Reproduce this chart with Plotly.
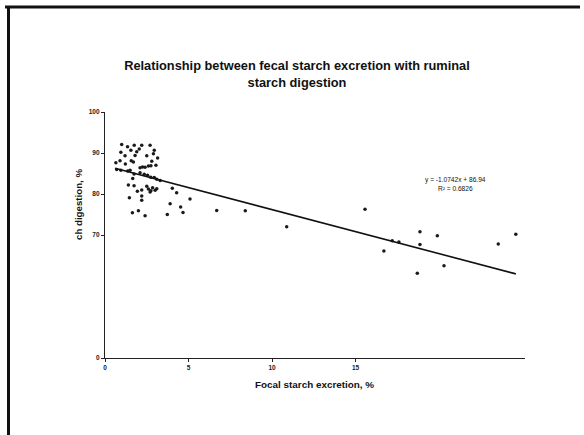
import plotly.graph_objects as go

# Data
fecal_starch = [1.0, 1.35, 1.75, 2.2, 2.7,
                0.95, 1.55, 2.05, 2.95, 1.9,
                1.2, 1.8, 2.5, 2.9, 3.15,
                0.65, 0.9, 1.57, 1.7, 1.22, 2.8, 3.05,
                2.1, 2.25, 2.4, 2.6, 2.75,
                0.7, 0.95, 1.36, 1.5, 1.74, 1.66,
                2.1, 2.35, 2.55, 2.74, 2.95, 3.1, 3.3,
                1.4, 1.74, 2.5, 2.6, 2.75, 2.85, 3.0, 3.1, 2.7,
                1.94, 2.2, 2.2, 1.46, 2.2,
                1.64, 2.0, 2.4,
                3.73, 3.9, 4.03, 4.29, 4.67, 4.53, 5.09, 6.69, 8.4,
                10.88, 15.57, 16.7, 17.2, 17.6, 18.86, 18.86, 18.7, 19.9, 20.3, 23.55, 24.6]
ruminal_digestion = [92.1, 91.5, 91.9, 91.9, 91.9,
                     90.2, 90.7, 91.0, 90.7, 90.3,
                     89.3, 89.4, 89.3, 89.8, 88.8,
                     87.6, 88.1, 88.1, 87.8, 87.3, 88.0, 87.0,
                     86.4, 86.6, 86.5, 86.8, 86.9,
                     86.0, 85.8, 85.6, 85.8, 84.9, 83.8,
                     85.2, 84.8, 84.6, 84.1, 84.0, 83.6, 83.3,
                     82.2, 82.0, 81.9, 81.2, 80.8, 81.5, 80.9, 81.3, 80.5,
                     80.7, 81.0, 79.5, 79.1, 78.5,
                     75.4, 75.9, 74.7,
                     75.0, 77.6, 81.4, 80.3, 75.5, 76.8, 78.8, 76.0, 75.9,
                     72.0, 76.3, 66.1, 68.6, 68.3, 70.8, 67.7, 60.7, 69.8, 62.5, 67.8, 70.2]

slope = -1.0742
intercept = 86.94
trend_x = [0.6, 24.6]
trend_y = [slope * v + intercept for v in trend_x]

x_tickvals = [0, 5, 10, 15]
x_ticktext = ["0", "5", "10", "15"]
y_tickvals = [40, 70, 80, 90, 100]
y_ticktext = ["0", "70", "80", "90", "100"]

font_family = "Liberation Sans, Arial, sans-serif"

fig = go.Figure()
fig.add_trace(go.Scatter(
    x=fecal_starch, y=ruminal_digestion, mode="markers",
    marker=dict(color="#1a1a1a", size=3.5, line=dict(width=0)),
    showlegend=False, hoverinfo="skip"))
fig.add_trace(go.Scatter(
    x=trend_x, y=trend_y, mode="lines",
    line=dict(color="#111111", width=1.6),
    showlegend=False, hoverinfo="skip"))

fig.update_layout(
    width=584, height=435,
    margin=dict(l=105, r=59, t=112, b=77),
    paper_bgcolor="white", plot_bgcolor="white",
    font=dict(family=font_family, color="#111111"),
    title=dict(
        text="<b>Relationship between fecal starch excretion with ruminal<br>starch digestion</b>",
        x=(297 / 584), xanchor="center", y=1 - 70 / 435, yanchor="middle",
        font=dict(size=12.8, family=font_family, color="#111111")),
    xaxis=dict(range=[0, 25.15], tickvals=x_tickvals,
               ticktext=["<b>" + t + "</b>" for t in x_ticktext],
               showline=True, linecolor="#222222", linewidth=1.2,
               ticks="outside", ticklen=3, tickcolor="#222222",
               showgrid=False, zeroline=False,
               tickfont=dict(size=6.5, color="#222222")),
    yaxis=dict(range=[40, 100], tickvals=y_tickvals,
               ticktext=["<b>" + t + "</b>" for t in y_ticktext],
               showline=True, linecolor="#222222", linewidth=1.2,
               ticks="outside", ticklen=3, tickcolor="#222222",
               showgrid=False, zeroline=False,
               tickfont=dict(size=6.5, color="#222222")),
    annotations=[
        dict(text="<b>Focal starch excretion, %</b>", xref="paper", yref="paper",
             x=(314 - 105) / 420, y=-(384 - 358) / 246, showarrow=False,
             xanchor="center", yanchor="middle",
             font=dict(size=9.9, color="#111111")),
        dict(text="<b>ch digestion, %</b>", xref="paper", yref="paper",
             x=-(105 - 78) / 420, y=(358 - 205) / 246, showarrow=False,
             textangle=-90, xanchor="center", yanchor="middle",
             font=dict(size=9.7, color="#111111")),
        dict(text="y = -1.0742x + 86.94<br>R² = 0.6826", xref="paper", yref="paper",
             x=(455 - 105) / 420, y=(358 - 184) / 246, showarrow=False,
             xanchor="center", yanchor="middle", align="center",
             font=dict(size=6.6, color="#111111")),
    ],
    shapes=[
        dict(type="line", xref="paper", yref="paper",
             x0=-(105 - 5) / 420, x1=(580 - 105) / 420,
             y0=(358 - 7) / 246, y1=(358 - 7) / 246,
             line=dict(color="#111111", width=3)),
        dict(type="line", xref="paper", yref="paper",
             x0=-(105 - 8.5) / 420, x1=-(105 - 8.5) / 420,
             y0=(358 - 6) / 246, y1=(358 - 440) / 246,
             line=dict(color="#111111", width=3)),
    ],
)

fig.write_html("out.html")
